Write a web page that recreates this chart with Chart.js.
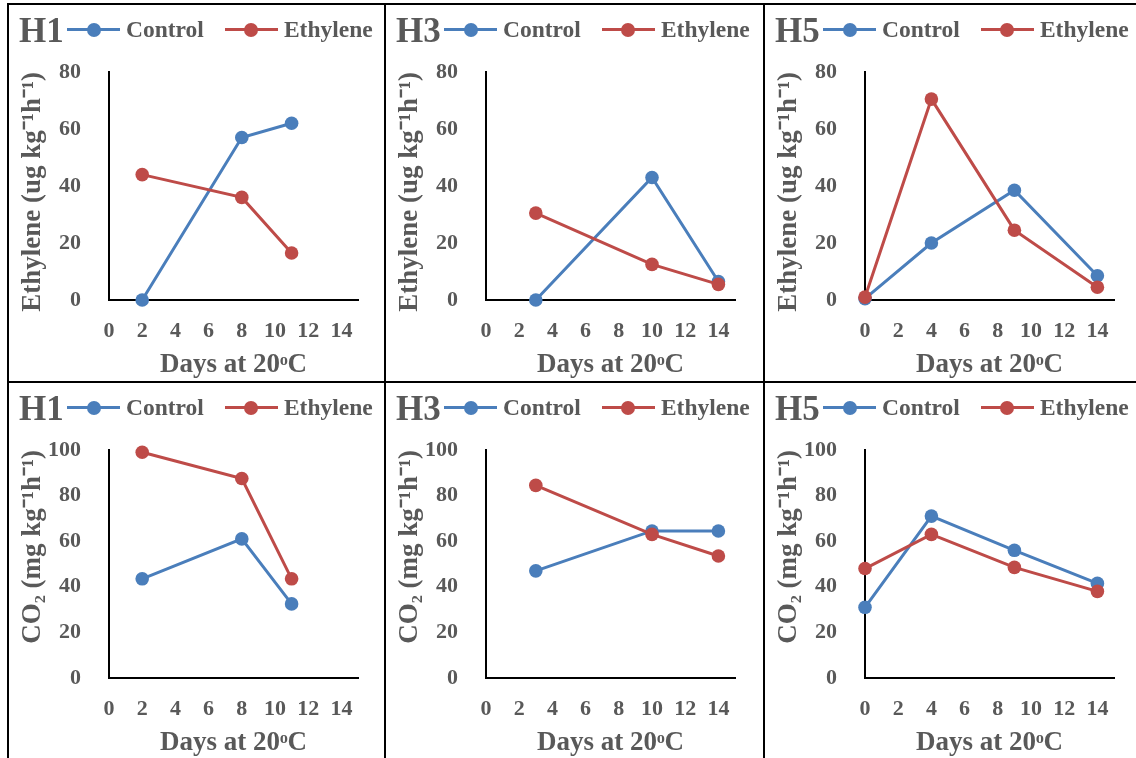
<!DOCTYPE html>
<html>
<head>
<meta charset="utf-8">
<script src="https://cdn.jsdelivr.net/npm/chart.js@4.4.1/dist/chart.umd.min.js"></script>
<style>
  html, body { margin: 0; padding: 0; background: #fff; }
  body { position: relative; width: 1136px; height: 758px; overflow: hidden; }
  .panel { position: absolute; width: 376px; height: 376px; }
  .panel canvas { position: absolute; left: 0; top: 0; }
  .tag {
    position: absolute; left: 10px; top: 8px;
    font: bold 35px/35px "Liberation Serif", "Times New Roman", serif;
    color: #595959;
  }
  .legend {
    position: absolute; left: 58px; top: 12px; height: 25px;
    display: flex; align-items: center;
    font: bold 23.5px/25px "Liberation Serif", "Times New Roman", serif;
    color: #595959; white-space: nowrap;
  }
  .legend .item { display: flex; align-items: center; }
  .legend .item + .item { margin-left: 21px; }
  .legend .mark { position: relative; width: 53px; height: 3px; margin-right: 6px; }
  .legend .mark::after {
    content: ""; position: absolute; left: 19.5px; top: -5.5px;
    width: 14px; height: 14px; border-radius: 50%; background: inherit;
  }
  .rule { position: absolute; background: #000; }
</style>
</head>
<body>

<script>
// Days at 20°C for each cultivar
const h1Days = [2, 8, 11];
const h3Days = [3, 10, 14];
const h5Days = [0, 4, 9, 14];

// Ethylene production (ug kg-1 h-1)
const h1EthyleneControl = [0, 57, 62];
const h1EthyleneTreated = [44, 36, 16.5];
const h3EthyleneControl = [0, 43, 6.5];
const h3EthyleneTreated = [30.5, 12.5, 5.5];
const h5EthyleneControl = [0.5, 20, 38.5, 8.5];
const h5EthyleneTreated = [1, 70.5, 24.5, 4.5];

// CO2 production (mg kg-1 h-1)
const h1Co2Control = [43.5, 61, 32.5];
const h1Co2Treated = [99, 87.5, 43.5];
const h3Co2Control = [47, 64.5, 64.5];
const h3Co2Treated = [84.5, 63, 53.5];
const h5Co2Control = [31, 71, 56, 41.5];
const h5Co2Treated = [48, 63, 48.5, 38];

// tick labels
const dayTicks = [0, 2, 4, 6, 8, 10, 12, 14];
const ethyleneTicks = [0, 20, 40, 60, 80];
const co2Ticks = [0, 20, 40, 60, 80, 100];

const seriesNames = ['Control', 'Ethylene'];

const COLORS = {
  control: '#4A7EBB',
  treated: '#BE4B48',
  text: '#595959',
  axis: '#000000'
};
const FONT = '"Liberation Serif", "Times New Roman", serif';

const panels = [
  { tag: 'H1', days: h1Days, control: h1EthyleneControl, treated: h1EthyleneTreated, ticks: ethyleneTicks, yTitle: 'Ethylene (ug kg⁻¹h⁻¹)', left: 9, top: 5 },
  { tag: 'H3', days: h3Days, control: h3EthyleneControl, treated: h3EthyleneTreated, ticks: ethyleneTicks, yTitle: 'Ethylene (ug kg⁻¹h⁻¹)', left: 386, top: 5 },
  { tag: 'H5', days: h5Days, control: h5EthyleneControl, treated: h5EthyleneTreated, ticks: ethyleneTicks, yTitle: 'Ethylene (ug kg⁻¹h⁻¹)', left: 765, top: 5 },
  { tag: 'H1', days: h1Days, control: h1Co2Control, treated: h1Co2Treated, ticks: co2Ticks, yTitle: 'CO₂ (mg kg⁻¹h⁻¹)', left: 9, top: 383 },
  { tag: 'H3', days: h3Days, control: h3Co2Control, treated: h3Co2Treated, ticks: co2Ticks, yTitle: 'CO₂ (mg kg⁻¹h⁻¹)', left: 386, top: 383 },
  { tag: 'H5', days: h5Days, control: h5Co2Control, treated: h5Co2Treated, ticks: co2Ticks, yTitle: 'CO₂ (mg kg⁻¹h⁻¹)', left: 765, top: 383 }
];

const toPoints = (xs, ys) => xs.map((x, i) => ({ x, y: ys[i] }));

function dataset(label, color, points, order) {
  return {
    label,
    data: points,
    order,
    borderColor: color,
    backgroundColor: color,
    borderWidth: 3,
    pointRadius: 6.8,
    pointBorderWidth: 0,
    pointBackgroundColor: color,
    tension: 0,
    clip: false
  };
}

function buildLegend(host, chart) {
  chart.data.datasets.forEach(ds => {
    const item = document.createElement('span');
    item.className = 'item';
    const mark = document.createElement('span');
    mark.className = 'mark';
    mark.style.background = ds.borderColor;
    const text = document.createElement('span');
    text.textContent = ds.label;
    item.appendChild(mark);
    item.appendChild(text);
    host.appendChild(item);
  });
}

function makePanel(p) {
  const box = document.createElement('div');
  box.className = 'panel';
  box.style.left = p.left + 'px';
  box.style.top = p.top + 'px';

  const canvas = document.createElement('canvas');
  canvas.width = 376;
  canvas.height = 376;
  box.appendChild(canvas);

  const tag = document.createElement('div');
  tag.className = 'tag';
  tag.textContent = p.tag;
  box.appendChild(tag);

  const legend = document.createElement('div');
  legend.className = 'legend';
  box.appendChild(legend);

  document.body.appendChild(box);

  const tickFont = { family: FONT, size: 22, weight: 'bold' };
  const titleFont = { family: FONT, size: 27, weight: 'bold' };
  const yTicks = p.ticks;

  const chart = new Chart(canvas, {
    type: 'line',
    data: {
      datasets: [
        dataset(seriesNames[0], COLORS.control, toPoints(p.days, p.control), 2),
        dataset(seriesNames[1], COLORS.treated, toPoints(p.days, p.treated), 1)
      ]
    },
    options: {
      responsive: false,
      animation: false,
      layout: { padding: { top: 67, right: 27, bottom: 0, left: 0 } },
      plugins: {
        legend: { display: false },
        tooltip: { enabled: false }
      },
      scales: {
        x: {
          type: 'linear',
          min: 0,
          max: 15,
          afterBuildTicks: s => { s.ticks = dayTicks.map(v => ({ value: v })); },
          afterFit: s => { s.height = 81; },
          grid: { display: false },
          border: { display: true, color: COLORS.axis, width: 2 },
          ticks: { color: COLORS.text, font: tickFont, padding: 10, maxRotation: 0, autoSkip: false },
          title: {
            display: true,
            text: 'Days at 20ᵒC',
            color: COLORS.text,
            font: titleFont,
            padding: { top: 0, bottom: 0 }
          }
        },
        y: {
          min: yTicks[0],
          max: yTicks[yTicks.length - 1],
          afterBuildTicks: s => { s.ticks = yTicks.map(v => ({ value: v })); },
          afterFit: s => { s.width = 100; },
          grid: { display: false },
          border: { display: true, color: COLORS.axis, width: 2 },
          ticks: { color: COLORS.text, font: tickFont, padding: 20 },
          title: {
            display: true,
            text: p.yTitle,
            align: 'end',
            color: COLORS.text,
            font: titleFont,
            padding: { top: 8, bottom: 0 }
          }
        }
      }
    }
  });

  buildLegend(legend, chart);
  return chart;
}

const charts = panels.map(makePanel);

// panel frame lines
[
  { l: 7, t: 3, w: 1129, h: 2 },
  { l: 7, t: 381, w: 1129, h: 2 },
  { l: 7, t: 3, w: 2, h: 755 },
  { l: 384, t: 3, w: 2, h: 755 },
  { l: 763, t: 3, w: 2, h: 755 }
].forEach(r => {
  const d = document.createElement('div');
  d.className = 'rule';
  d.style.cssText = `left:${r.l}px;top:${r.t}px;width:${r.w}px;height:${r.h}px`;
  document.body.appendChild(d);
});
</script>
</body>
</html>
